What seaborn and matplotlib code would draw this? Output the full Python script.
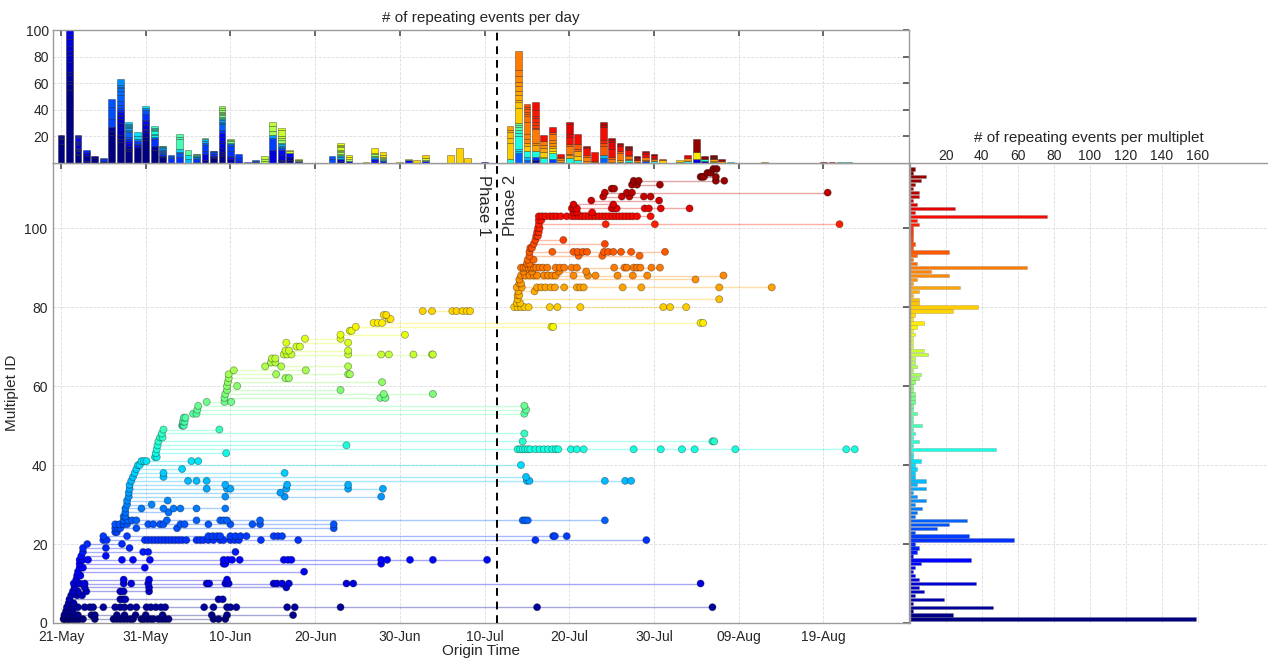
import numpy as np
import pandas as pd
import matplotlib
matplotlib.use("Agg")
import matplotlib.pyplot as plt
import seaborn as sns

# ------------------------------------------------------------
# data (days counted from 21-May)
# ------------------------------------------------------------

tick_days = [0, 10, 20, 30, 40, 50, 60, 70, 80, 90]
tick_labels = ["21-May", "31-May", "10-Jun", "20-Jun", "30-Jun",
               "10-Jul", "20-Jul", "30-Jul", "09-Aug", "19-Aug"]
phase_split = 51.5

# event days of each multiplet (multiplet ID = position + 1)
event_days = [
    [0.3, 0.5, 0.8, 1.0, 1.3, 1.6, 1.9, 2.2, 2.6, 4.0, 6.2, 6.6, 7.0, 7.4, 7.8, 8.2, 8.5,
     9.5, 9.8, 10.2, 10.6, 10.9, 11.5, 11.9, 12.3, 12.7, 18.0, 18.6, 19.4],
    [0.4, 0.9, 1.4, 2.0, 3.6, 4.0, 6.6, 7.5, 8.8, 10.0, 12.0, 17.8, 19.6, 27.4],
    [0.6, 1.4],
    [0.7, 1.3, 2.0, 2.8, 3.4, 3.8, 5.0, 6.4, 7.0, 7.5, 8.2, 8.9, 10.1, 10.6, 11.2, 11.8,
     12.3, 16.9, 18.0, 19.6, 20.0, 20.7, 26.7, 27.6, 33.0, 56.2, 76.9],
    [0.9, 1.5],
    [1.0, 7.0, 7.3, 7.6, 18.6, 19.1],
    [1.2, 1.9, 2.5],
    [1.4, 2.0, 3.0, 7.0, 7.4, 10.4],
    [1.6, 2.8, 10.4, 26.6],
    [1.5, 2.2, 2.8, 7.4, 8.3, 10.3, 17.2, 17.5, 19.4, 19.8, 25.1, 25.5, 26.1, 26.9, 33.7,
     34.5, 75.5],
    [1.8, 7.4, 10.4, 19.6],
    [1.9, 2.3],
    [2.0, 28.7],
    [2.2, 2.6, 9.9],
    [2.2, 19.2, 19.4, 37.8],
    [2.2, 2.6, 3.2, 7.2, 8.5, 10.5, 19.2, 19.7, 20.2, 21.1, 26.3, 26.8, 27.2, 37.8, 38.5,
     41.2, 43.9, 50.3],
    [2.4, 5.3],
    [2.6, 9.7, 10.3, 20.6],
    [2.6, 5.3, 8.1],
    [3.1, 7.2],
    [5.0, 5.4, 9.9, 10.3, 10.7, 11.1, 11.5, 11.9, 12.3, 12.7, 13.1, 13.5, 13.9, 14.3, 14.8,
     16.0, 16.4, 16.8, 17.4, 18.0, 18.8, 19.2, 20.0, 20.5, 21.0, 23.6, 28.0, 56.0, 69.1],
    [5.0, 7.8, 17.4, 17.9, 18.4, 18.8, 20.0, 20.6, 21.2, 21.9, 25.1, 25.6, 26.1, 58.1,
     58.3, 59.7],
    [6.4, 6.6],
    [6.4, 6.7, 7.0, 8.9, 13.7, 32.2],
    [6.4, 6.9, 7.4, 7.8, 10.3, 10.9, 11.7, 12.1, 14.1, 14.6, 17.4, 20.0, 22.6, 23.5, 32.2],
    [7.4, 7.9, 8.4, 8.9, 12.5, 16.0, 18.8, 19.2, 19.6, 23.5, 54.5, 54.8, 55.1, 64.2],
    [7.4, 7.6],
    [7.6, 12.7],
    [7.6, 9.5, 12.1, 13.3, 14.1, 16.0, 19.4],
    [7.8, 10.7],
    [7.8, 12.6],
    [8.0, 19.4, 26.4, 37.8],
    [8.0, 25.9],
    [8.1, 17.2, 19.6, 20.0, 26.6, 33.9, 38.0],
    [8.1, 19.4, 26.7, 33.9],
    [8.3, 15.0, 16.0, 17.2, 55.0, 55.3, 64.2, 66.6, 67.3],
    [8.5, 12.1, 54.9],
    [8.7, 12.1, 26.4],
    [8.9, 14.3],
    [9.1, 9.3, 54.3],
    [9.5, 9.8, 10.1, 15.4, 16.2],
    [11.1, 11.3],
    [11.2, 19.5],
    [11.3, 53.9, 54.2, 54.5, 54.8, 55.1, 55.4, 56.0, 56.5, 57.0, 57.5, 58.0, 58.4, 58.7,
     60.2, 60.9, 61.7, 67.6, 70.8, 73.3, 74.8, 79.6, 92.7, 93.7],
    [11.4, 33.7],
    [11.5, 54.5, 76.9, 77.1],
    [11.7, 12.0],
    [11.9, 54.7],
    [12.1, 18.7],
    [14.3, 14.4, 14.5],
    [14.4, 14.6],
    [14.5, 14.7],
    [15.6, 16.0, 54.7],
    [16.1, 54.9],
    [16.2, 54.7],
    [17.2, 19.3, 20.1],
    [19.3, 37.7, 38.3],
    [19.4, 38.1, 43.9],
    [19.6, 33.0],
    [19.6, 20.8],
    [19.7, 37.9],
    [19.8, 26.5, 26.9],
    [19.8, 25.4, 33.9, 34.1],
    [20.4, 28.9],
    [24.1, 26.0, 33.9],
    [24.8, 25.3],
    [24.9, 25.3],
    [26.3, 26.7, 27.2, 33.9, 37.8, 38.7, 41.6, 43.8, 43.9],
    [26.5, 26.9, 33.9],
    [27.8, 28.2],
    [26.6, 33.9],
    [28.8, 33.0],
    [33.0, 40.6],
    [34.1, 34.3],
    [34.8, 57.9, 58.1],
    [36.9, 37.4, 37.9, 75.5, 75.8],
    [38.7, 38.9],
    [38.1, 38.4],
    [42.7, 43.8, 46.2, 46.7, 47.4, 47.9, 48.3],
    [53.5, 53.9, 54.3, 54.7, 55.2, 57.7, 58.6, 61.3, 71.1, 71.9, 73.8],
    [53.8, 54.2],
    [53.9, 77.7],
    [53.9, 54.1],
    [54.0, 55.9],
    [53.8, 54.4, 56.2, 56.7, 57.2, 57.8, 58.3, 59.4, 60.9, 61.3, 61.7, 66.3, 68.5, 77.7, 83.9],
    [54.1, 54.3],
    [54.1, 74.9],
    [54.3, 54.8, 55.3, 55.8, 56.2, 57.0, 57.5, 58.0, 58.4, 60.5, 62.2, 63.1, 65.7, 67.5,
     69.2, 78.2],
    [54.6, 55.6, 58.8, 62.0],
    [54.3, 54.6, 54.9, 55.2, 55.5, 55.8, 56.1, 56.5, 56.9, 57.4, 58.4, 58.9, 59.4, 60.3,
     60.9, 65.3, 66.5, 66.8, 67.6, 68.0, 68.4, 69.7, 70.7],
    [55.0, 55.3],
    [55.1, 55.8],
    [55.3, 61.1, 63.9, 68.3],
    [55.3, 58.0, 60.5, 61.0, 61.6, 62.1, 64.1, 64.6, 65.2, 66.1, 67.3, 71.3],
    [55.4, 55.6],
    [55.8, 64.2],
    [56.0, 59.3],
    [56.1, 56.3],
    [56.2, 56.4],
    [56.3, 56.5],
    [56.4, 64.3, 70.1, 91.9],
    [56.4, 56.7],
    [56.4, 56.8, 57.2, 57.7, 58.1, 58.5, 59.0, 59.7, 60.3, 60.7, 61.1, 61.5, 61.9, 62.3,
     62.7, 63.1, 63.5, 63.9, 64.3, 64.7, 65.1, 65.5, 65.9, 66.3, 66.7, 67.1, 67.5, 68.0, 69.6],
    [60.5, 60.9, 62.7],
    [60.3, 60.6, 60.9, 65.0, 65.3, 65.6, 68.9, 69.4, 70.8, 74.2],
    [60.5, 65.2],
    [62.6, 70.6],
    [64.0, 66.2, 67.1, 68.8, 69.6],
    [64.2, 66.8, 67.4, 90.5],
    [65.0, 65.3],
    [67.4, 68.0, 70.7],
    [67.6, 68.2, 77.3, 78.3],
    [75.5, 75.7, 75.9, 77.3],
    [76.3, 76.7],
    [77.0, 77.4],
]

# number of repeating events per multiplet (ID 1 .. 115)
events_per_multiplet = [
    159, 24, 2, 46, 2, 19, 3, 8, 5, 37, 5, 3, 2, 3, 6, 34, 2, 4, 5, 3,
    58, 33, 3, 15, 22, 32, 3, 4, 7, 3, 9, 4, 2, 9, 4, 9, 3, 3, 4, 3,
    6, 2, 2, 48, 2, 5, 2, 3, 2, 7, 2, 2, 4, 2, 2, 3, 3, 3, 2, 2,
    3, 5, 6, 2, 4, 3, 3, 10, 8, 2, 2, 2, 3, 2, 4, 8, 2, 3, 24, 38,
    5, 5, 2, 5, 28, 2, 4, 22, 12, 65, 4, 2, 4, 22, 2, 3, 2, 2, 2, 2,
    5, 4, 76, 3, 25, 4, 2, 5, 5, 2, 3, 6, 9, 2, 3,
]

# number of repeating events per day (day 0 .. 93)
events_per_day = [
    21, 100, 21, 10, 5, 4, 48, 63, 31, 23, 43, 28, 13, 6, 22, 10, 7, 19, 9, 43,
    18, 7, 1, 2, 5, 31, 26, 10, 3, 0, 0, 0, 5, 15, 6, 0, 1, 11, 8, 0,
    1, 3, 2, 6, 0, 0, 6, 11, 4, 0, 1, 0, 0, 28, 84, 44, 46, 21, 27, 7,
    31, 22, 13, 8, 31, 19, 15, 13, 5, 9, 7, 3, 0, 2, 6, 18, 5, 6, 3, 1,
    0, 0, 0, 1, 0, 0, 0, 0, 0, 0, 1, 1, 1, 1,
]

# ------------------------------------------------------------
# style
# ------------------------------------------------------------

sns.set_theme(style="white")
plt.rcParams["font.family"] = ["Liberation Sans", "DejaVu Sans"]

n_mult = len(event_days)
ids = np.arange(1, n_mult + 1)
cmap = plt.get_cmap("jet")
colors = {m: cmap((m - 1) / (n_mult - 1)) for m in ids}

df = pd.DataFrame(
    [(m, d) for m, days in zip(ids, event_days) for d in days],
    columns=["multiplet", "day"],
)

spine_col = "#9a9a9a"
grid_kw = dict(color="#dcdcdc", linestyle="--", linewidth=0.6)
x_min, x_max = -0.94, 100.1
y_max = 116.5

fig = plt.figure(figsize=(12.68, 6.6), dpi=100)

L, B, W, H = 53 / 1268, 37 / 660, (909 - 53) / 1268, (623 - 163) / 660
ax = fig.add_axes([L, B, W, H])
ax_top = fig.add_axes([L, B + H, W, (164 - 31) / 660])
ax_r = fig.add_axes([909.7 / 1268, B, 1 - 909.7 / 1268, H])

# ------------------------------------------------------------
# main panel: multiplets over time
# ------------------------------------------------------------

for m, days in zip(ids, event_days):
    ax.plot([min(days), max(days)], [m, m], color=colors[m], alpha=0.35,
            linewidth=1.0, zorder=1)

sns.scatterplot(
    data=df, x="day", y="multiplet", hue="multiplet", palette=colors,
    s=26, edgecolor=(0, 0, 0, 0.35), linewidth=0.6, legend=False,
    ax=ax, zorder=3,
)

ax.axvline(phase_split, color="black", linestyle=(0, (4, 3)), linewidth=1.4, zorder=4)
ax.text(phase_split - 1.6, 105.8, "Phase 1", rotation=270, ha="center",
        va="center", fontsize=12)
ax.text(phase_split + 1.6, 105.8, "Phase 2", rotation=90, ha="center",
        va="center", fontsize=12)

ax.set_xlim(x_min, x_max)
ax.set_ylim(0, y_max)
ax.set_xticks(tick_days)
ax.set_xticklabels(tick_labels)
ax.set_yticks([0, 20, 40, 60, 80, 100])
ax.set_xlabel("Origin Time", fontsize=11, labelpad=0)
ax.set_ylabel("Multiplet ID", fontsize=11, labelpad=4)
ax.grid(True, **grid_kw)
ax.tick_params(direction="in", length=4, top=True, right=True, labelsize=10,
               color="#555555")
ax.tick_params(axis="x", pad=5)
ax.tick_params(axis="y", pad=4)

# ------------------------------------------------------------
# top panel: repeating events per day, stacked by multiplet
# ------------------------------------------------------------

for d, total in enumerate(events_per_day):
    if total == 0:
        continue
    active, weights = [], []
    for m, days in zip(ids, event_days):
        k = sum(1 for x in days if int(np.floor(x)) == d)
        if k:
            active.append(m)
            weights.append(k * events_per_multiplet[m - 1] / len(days))
    if not active:
        continue
    bottom = 0.0
    for m, w in zip(active, weights):
        h = total * w / sum(weights)
        ax_top.bar(d, h, bottom=bottom, width=0.8, color=colors[m],
                   edgecolor=(0, 0, 0, 0.55), linewidth=0.4, zorder=2)
        bottom += h

ax_top.axvline(phase_split, color="black", linestyle=(0, (4, 3)), linewidth=1.4, zorder=4)
ax_top.set_xlim(x_min, x_max)
ax_top.set_ylim(0, 100)
ax_top.set_xticks(tick_days)
ax_top.set_xticklabels([])
ax_top.set_yticks([20, 40, 60, 80, 100])
ax_top.grid(True, **grid_kw)
ax_top.tick_params(direction="in", length=4, top=True, right=True, labelsize=10,
                   color="#555555", pad=3)
ax_top.set_title("# of repeating events per day", fontsize=11, pad=6)

# ------------------------------------------------------------
# right panel: repeating events per multiplet
# ------------------------------------------------------------

ax_r.barh(ids, events_per_multiplet, height=0.85,
          color=[colors[m] for m in ids],
          edgecolor=(0.4, 0.4, 0.4, 0.35), linewidth=0.5, zorder=2)
ax_r.set_xlim(0, 199)
ax_r.set_ylim(0, y_max)
ax_r.xaxis.tick_top()
ax_r.set_xticks([20, 40, 60, 80, 100, 120, 140, 160])
ax_r.set_yticks([0, 20, 40, 60, 80, 100])
ax_r.set_yticklabels([])
ax_r.grid(True, **grid_kw)
ax_r.tick_params(axis="x", direction="in", length=0, labelsize=10, pad=0)
ax_r.tick_params(axis="y", length=0)
ax_r.set_title("# of repeating events per multiplet", fontsize=11, pad=5)

for a in (ax, ax_top, ax_r):
    for s in a.spines.values():
        s.set_color(spine_col)
        s.set_linewidth(1.0)
ax_r.spines["right"].set_visible(False)
ax_r.spines["bottom"].set_visible(False)

fig.savefig("out.png", dpi=100)
